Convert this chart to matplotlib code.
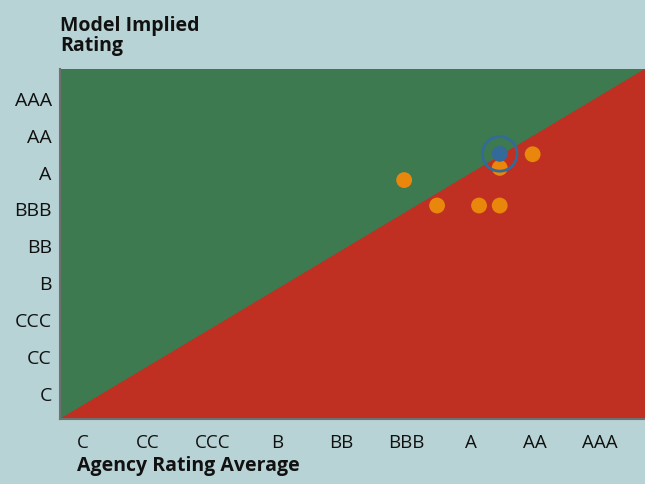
import matplotlib
matplotlib.use("Agg")
import matplotlib.pyplot as plt
from matplotlib.patches import Polygon

ratings = ["C", "CC", "CCC", "B", "BB", "BBB", "A", "AA", "AAA"]
agency_x = [5.97, 6.48, 7.13, 7.45, 7.45, 7.96]
model_y = [6.77, 6.08, 6.08, 6.08, 7.10, 7.47]
highlight_x = [7.45]
highlight_y = [7.48]

BG = "#b8d3d5"
GREEN = "#3d7a50"
RED = "#bf3022"
ORANGE = "#e8870b"
BLUE = "#336a99"

plt.rcParams['font.family'] = ['Open Sans', 'DejaVu Sans']

fig = plt.figure(figsize=(6.45, 4.85), dpi=100, facecolor=BG)
ax = fig.add_axes([60/645, 65/485, 1 - 60/645, 350/485])
ax.set_facecolor(RED)
ax.set_xlim(0.64, 9.70)
ax.set_ylim(0.295, 9.78)

ax.add_patch(Polygon([[0, 0], [0, 1], [1, 1]], closed=True, transform=ax.transAxes,
                     facecolor=GREEN, edgecolor='none', zorder=0))
ax.add_patch(Polygon([[0, 0], [1, 0], [1, 1]], closed=True, transform=ax.transAxes,
                     facecolor=RED, edgecolor='none', zorder=0))

ax.scatter(agency_x, model_y, s=130, color=ORANGE, edgecolors='none', zorder=3)
ax.scatter(highlight_x, highlight_y, s=130, color=BLUE, edgecolors='none', zorder=4)
ax.scatter(highlight_x, highlight_y, s=620, facecolors='none', edgecolors=BLUE,
           linewidths=2, zorder=4)

pos = list(range(1, len(ratings) + 1))
ax.set_xticks(pos)
ax.set_xticklabels(ratings)
ax.set_yticks(pos)
ax.set_yticklabels(ratings)
ax.tick_params(length=0, colors='#111111')
ax.tick_params(axis='x', labelsize=13.5, pad=10)
ax.tick_params(axis='y', labelsize=14, pad=6)

for s in ['top', 'right']:
    ax.spines[s].set_visible(False)
for s in ['left', 'bottom']:
    ax.spines[s].set_color('#707070')
    ax.spines[s].set_linewidth(1.5)

fig.text(77/645, 1 - 466/485, "Agency Rating Average", fontsize=14, fontweight='bold',
         color='#111111', ha='left', va='center')
fig.text(60/645, 1 - 36/485, "Model Implied\nRating", fontsize=14, fontweight='bold',
         color='#111111', ha='left', va='center', linespacing=1.0)

fig.savefig("out.png", dpi=100, facecolor=BG)
